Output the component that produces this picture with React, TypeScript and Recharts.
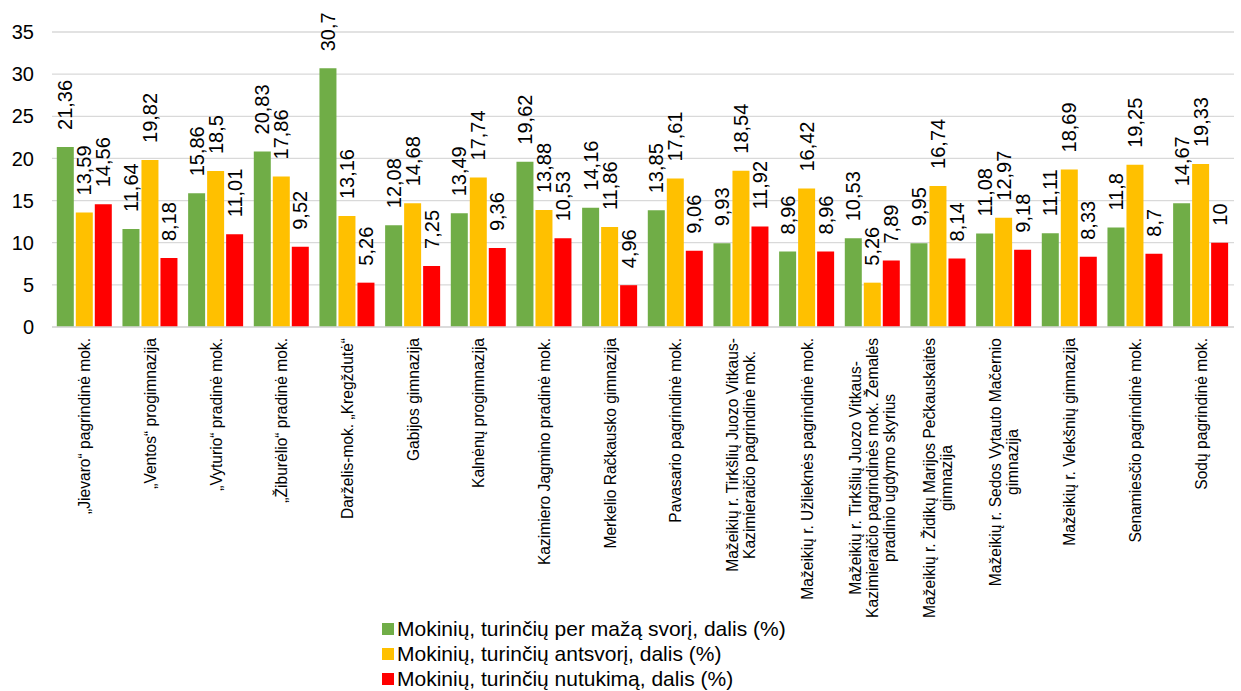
import { BarChart, Bar, XAxis, YAxis, CartesianGrid, Legend, LabelList } from "recharts";

const categories = [
  "„Jievaro“ pagrindinė mok.",
  "„Ventos“ progimnazija",
  "„Vyturio“ pradinė mok.",
  "„Žiburėlio“ pradinė mok.",
  "Darželis-mok. „Kregždutė“",
  "Gabijos gimnazija",
  "Kalnėnų progimnazija",
  "Kazimiero Jagmino pradinė mok.",
  "Merkelio Račkausko gimnazija",
  "Pavasario pagrindinė mok.",
  "Mažeikių r. Tirkšlių Juozo Vitkaus-\nKazimieraičio pagrindinė mok.",
  "Mažeikių r. Užlieknės pagrindinė mok.",
  "Mažeikių r. Tirkšlių Juozo Vitkaus-\nKazimieraičio pagrindinės mok. Žemalės\npradinio ugdymo skyrius",
  "Mažeikių r. Židikų Marijos Pečkauskaitės\ngimnazija",
  "Mažeikių r. Sedos Vytauto Mačernio\ngimnazija",
  "Mažeikių r. Viekšnių gimnazija",
  "Senamiesčio pagrindinė mok.",
  "Sodų pagrindinė mok.",
];

const underweight = [21.36, 11.64, 15.86, 20.83, 30.7, 12.08, 13.49, 19.62, 14.16, 13.85, 9.93, 8.96, 10.53, 9.95, 11.08, 11.11, 11.8, 14.67];
const overweight = [13.59, 19.82, 18.5, 17.86, 13.16, 14.68, 17.74, 13.88, 11.86, 17.61, 18.54, 16.42, 5.26, 16.74, 12.97, 18.69, 19.25, 19.33];
const obesity = [14.56, 8.18, 11.01, 9.52, 5.26, 7.25, 9.36, 10.53, 4.96, 9.06, 11.92, 8.96, 7.89, 8.14, 9.18, 8.33, 8.7, 10];

const yTicks = [0, 5, 10, 15, 20, 25, 30, 35];

const seriesNames = [
  "Mokinių, turinčių per mažą svorį, dalis (%)",
  "Mokinių, turinčių antsvorį, dalis (%)",
  "Mokinių, turinčių nutukimą, dalis (%)",
];
const colors = ["#70AD47", "#FFC000", "#FF0000"];

const data = categories.map((name, i) => ({
  name,
  a: underweight[i],
  b: overweight[i],
  c: obesity[i],
}));

const FONT = "'Liberation Sans', Arial, sans-serif";

let ctx: CanvasRenderingContext2D | null = null;
function textWidth(s: string, font: string) {
  if (!ctx) ctx = document.createElement("canvas").getContext("2d");
  if (!ctx) return s.length * 7;
  ctx.font = font;
  return ctx.measureText(s).width;
}

function CategoryTick(props: any) {
  const { x, y, payload } = props;
  const lines = String(payload.value).split("\n");
  const fs = 15.6;
  const lh = 17;
  const maxW = Math.max(...lines.map((l) => textWidth(l, `${fs}px 'Liberation Sans'`)));
  const n = lines.length;
  return (
    <g transform={`translate(${x},${y}) rotate(-90)`}>
      {lines.map((l, i) => (
        <text
          key={i}
          x={-maxW / 2}
          y={(i - (n - 1) / 2) * lh}
          dy="0.35em"
          textAnchor="middle"
          fontSize={fs}
          fontFamily={FONT}
          fill="#000"
        >
          {l}
        </text>
      ))}
    </g>
  );
}

function ValueLabel(props: any) {
  const { x, y, width, value } = props;
  const cx = x + width / 2;
  const cy = y - 17;
  return (
    <text
      x={cx}
      y={cy}
      dy="0.36em"
      transform={`rotate(-90, ${cx}, ${cy})`}
      textAnchor="start"
      fontSize={20}
      fontFamily={FONT}
      fill="#000"
    >
      {String(value).replace(".", ",")}
    </text>
  );
}

function LegendBox() {
  return (
    <div style={{ fontFamily: FONT, fontSize: 21, lineHeight: "25px", color: "#000" }}>
      {seriesNames.map((s, i) => (
        <div key={s} style={{ display: "flex", alignItems: "center", whiteSpace: "nowrap" }}>
          <span style={{ width: 12, height: 12, background: colors[i], display: "inline-block", marginRight: 3 }} />
          <span>{s}</span>
        </div>
      ))}
    </div>
  );
}

export default function App() {
  return (
    <div>
      <style>{`body{margin:0}`}</style>
      <BarChart
        width={1241}
        height={691}
        data={data}
        margin={{ top: 32, right: 7, left: 0, bottom: 0 }}
        barCategoryGap="7.3%"
        barGap={2}
      >
        <CartesianGrid vertical={false} stroke="#d9d9d9" strokeWidth={1.3} />
        <XAxis
          dataKey="name"
          interval={0}
          tickLine={false}
          axisLine={{ stroke: "#d9d9d9", strokeWidth: 1.3 }}
          tickMargin={5}
          height={289}
          tick={<CategoryTick />}
        />
        <YAxis
          width={52}
          domain={[0, 35]}
          ticks={yTicks}
          axisLine={false}
          tickLine={false}
          tickMargin={12}
          tick={{ fontSize: 20, fontFamily: FONT, fill: "#000" }}
        />
        <Legend
          layout="horizontal"
          verticalAlign="bottom"
          align="left"
          content={<LegendBox />}
          wrapperStyle={{ left: 382, width: "auto", height: 75 }}
        />
        <Bar dataKey="a" name={seriesNames[0]} fill={colors[0]} isAnimationActive={false}>
          <LabelList dataKey="a" content={<ValueLabel />} />
        </Bar>
        <Bar dataKey="b" name={seriesNames[1]} fill={colors[1]} isAnimationActive={false}>
          <LabelList dataKey="b" content={<ValueLabel />} />
        </Bar>
        <Bar dataKey="c" name={seriesNames[2]} fill={colors[2]} isAnimationActive={false}>
          <LabelList dataKey="c" content={<ValueLabel />} />
        </Bar>
      </BarChart>
    </div>
  );
}
